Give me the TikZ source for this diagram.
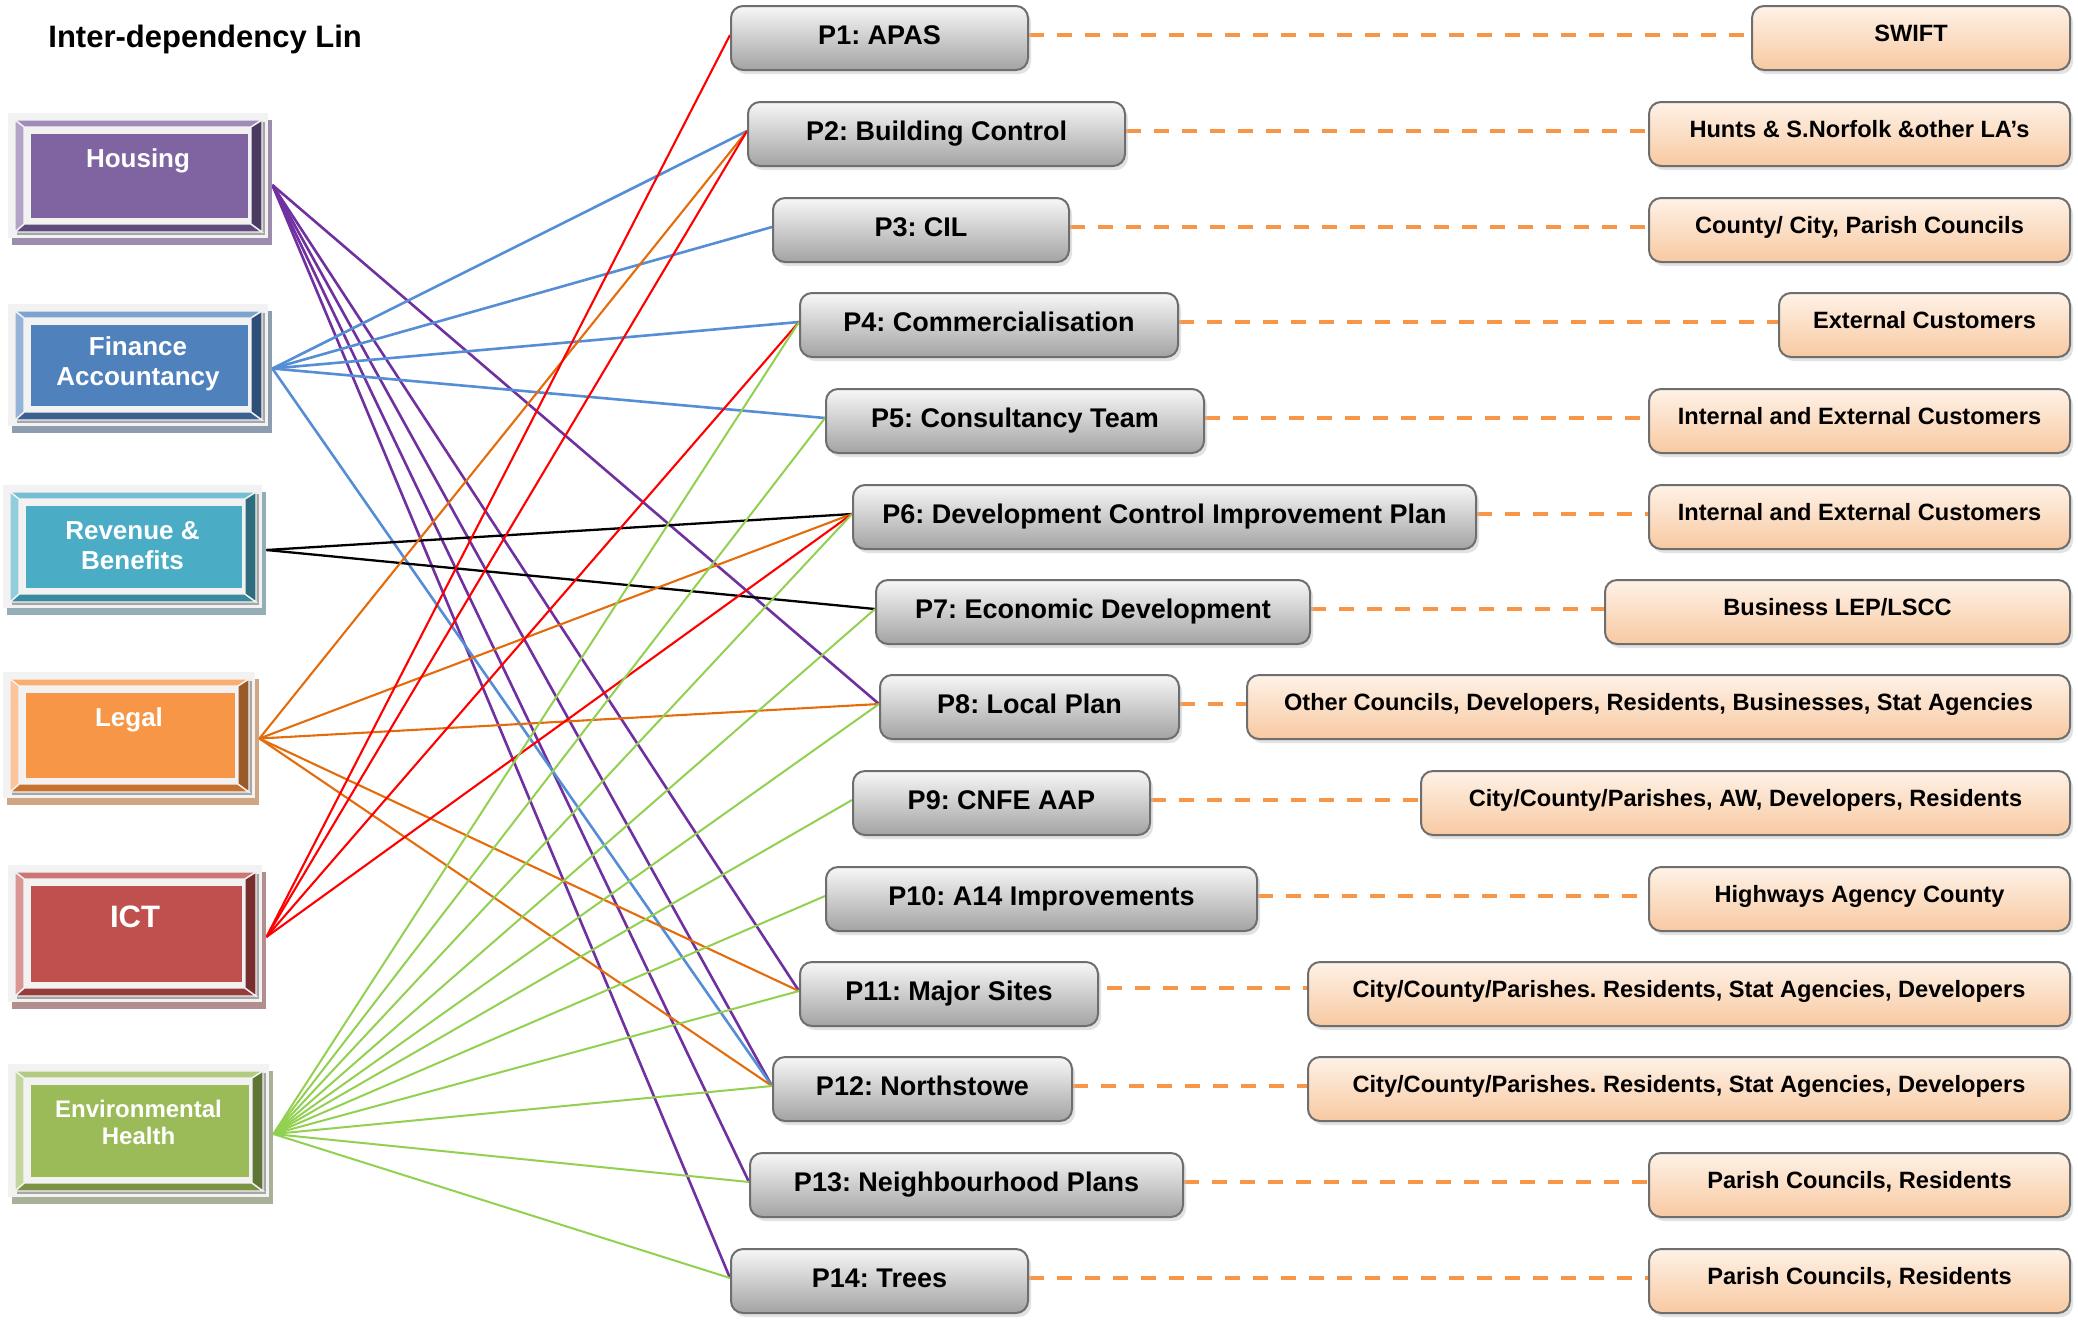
\documentclass[tikz,border=0pt]{standalone}
\usepackage{fontspec}
\setmainfont{Liberation Sans}
\usetikzlibrary{shadows,fit}
\pgfdeclarelayer{bg}
\pgfsetlayers{bg,main}
\definecolor{rim}{HTML}{F2F2F2}
\definecolor{rimdk}{HTML}{A6A6A6}
\definecolor{hsface}{HTML}{8064A2}\definecolor{hstp}{HTML}{9F8BBA}\definecolor{hslf}{HTML}{B3A3C8}\definecolor{hsrt}{HTML}{4B3B63}\definecolor{hsbt}{HTML}{5F4A7D}\definecolor{hssh}{HTML}{9C8DAE}
\definecolor{faface}{HTML}{4F81BD}\definecolor{fatp}{HTML}{7DA3D0}\definecolor{falf}{HTML}{95B3D7}\definecolor{fart}{HTML}{2F4F78}\definecolor{fabt}{HTML}{3C6190}\definecolor{fash}{HTML}{8E9CB0}
\definecolor{rbface}{HTML}{4BACC6}\definecolor{rbtp}{HTML}{74BFD3}\definecolor{rblf}{HTML}{92CDDC}\definecolor{rbrt}{HTML}{2E6D7E}\definecolor{rbbt}{HTML}{3A8AA0}\definecolor{rbsh}{HTML}{93AEB7}
\definecolor{lgface}{HTML}{F79646}\definecolor{lgtp}{HTML}{F9AD6E}\definecolor{lglf}{HTML}{FBC49A}\definecolor{lgrt}{HTML}{9A5A2A}\definecolor{lgbt}{HTML}{C8722F}\definecolor{lgsh}{HTML}{D0A584}
\definecolor{icface}{HTML}{C0504D}\definecolor{ictp}{HTML}{CD7674}\definecolor{iclf}{HTML}{DA9694}\definecolor{icrt}{HTML}{772E2D}\definecolor{icbt}{HTML}{963D3B}\definecolor{icsh}{HTML}{B28E8E}
\definecolor{ehface}{HTML}{9BBB59}\definecolor{ehtp}{HTML}{B2CB80}\definecolor{ehlf}{HTML}{C3D69B}\definecolor{ehrt}{HTML}{5F7535}\definecolor{ehbt}{HTML}{7B9443}\definecolor{ehsh}{HTML}{A8B198}
\definecolor{lnpurple}{HTML}{7030A0}
\definecolor{lnblue}{HTML}{558ED5}
\definecolor{lnorange}{HTML}{E46C0A}
\definecolor{lnred}{HTML}{FF0000}
\definecolor{lngreen}{HTML}{92D050}
\definecolor{dashor}{HTML}{F79646}
\definecolor{pTop}{HTML}{F7F7F7}\definecolor{pMid}{HTML}{DCDCDC}\definecolor{pBot}{HTML}{A3A3A3}
\definecolor{oTop}{HTML}{FEF2E7}\definecolor{oMid}{HTML}{FCE3CD}\definecolor{oBot}{HTML}{F8C9A1}
\definecolor{boxline}{HTML}{6E6E6E}

% #1 colour prefix, #2 x1, #3 y1, #4 x2, #5 y2, #6 name, #7 text y, #8 font, #9 text
\newcommand\bevbox[9]{%
  \fill[#1sh] (#2+4,#3+7) rectangle (#4+4,#5+7);
  \fill[rim] (#2,#3) rectangle (#4,#5);
  \fill[rimdk] (#2+9,#5-6) rectangle (#4-3,#5-3);
  \fill[rimdk] (#4-6,#3+9) rectangle (#4-3,#5-3);
  \filldraw[#1tp, draw=rim, line width=0.7pt] (#2+7,#3+7) -- (#4-6,#3+7) -- (#4-17,#3+14) -- (#2+16,#3+14) -- cycle;
  \filldraw[#1bt, draw=rim, line width=0.7pt] (#2+7,#5-6) -- (#4-6,#5-6) -- (#4-17,#5-14) -- (#2+16,#5-14) -- cycle;
  \filldraw[#1lf, draw=rim, line width=0.7pt] (#2+7,#3+7) -- (#2+16,#3+14) -- (#2+16,#5-14) -- (#2+7,#5-6) -- cycle;
  \filldraw[#1rt, draw=rim, line width=0.7pt] (#4-6,#3+7) -- (#4-17,#3+14) -- (#4-17,#5-14) -- (#4-6,#5-6) -- cycle;
  \fill[rim] (#2+16,#3+14) rectangle (#4-17,#5-14);
  \fill[#1face] (#2+23,#3+21) rectangle (#4-20,#5-20);
  \node[fit={(#2,#3) (#4+4,#5+7)}, inner sep=0pt] (#6) {};
  \node[ltext, font=#8] (#6-t) at ({(#2+#4)/2},#7) {#9};
}

\begin{document}
\frenchspacing
\begin{tikzpicture}[x=0.5pt,y=-0.5pt,
  ltext/.style={text=white, align=center, inner sep=0pt},
  pbox/.style={draw=boxline, line width=1pt, rounded corners=6pt,
    top color=pTop, middle color=pMid, bottom color=pBot,
    drop shadow={shadow xshift=1.5pt, shadow yshift=-2pt, fill=black!22},
    font=\fontsize{13.5}{16}\selectfont\bfseries, text height=10pt, text depth=4pt,
    minimum height=32pt, inner sep=0pt, anchor=west},
  obox/.style={draw=boxline, line width=1pt, rounded corners=6pt,
    top color=oTop, middle color=oMid, bottom color=oBot,
    drop shadow={shadow xshift=1.5pt, shadow yshift=-2pt, fill=black!22},
    font=\fontsize{11.8}{14}\selectfont\bfseries, text height=9pt, text depth=5.6pt,
    minimum height=32pt, inner sep=0pt, anchor=east},
  dashline/.style={draw=dashor, line width=2pt, dash pattern=on 7.5pt off 6.5pt},
  hsline/.style={draw=lnpurple, line width=1.3pt},
  faline/.style={draw=lnblue, line width=1.3pt},
  rbline/.style={draw=black, line width=1.15pt},
  lgline/.style={draw=lnorange, line width=1.05pt},
  icline/.style={draw=lnred, line width=1.05pt},
  ehline/.style={draw=lngreen, line width=1pt}]
\useasboundingbox (0,0) rectangle (2078,1319);

\node[anchor=base west, inner sep=0pt, font=\fontsize{15.5}{18}\selectfont\bfseries] (title) at (48,47) {Inter-dependency Lin};

% left department boxes
\bevbox{hs}{8}{113}{268}{238}{housing}{161}{\fontsize{13}{15}\selectfont\bfseries}{Housing}
\bevbox{fa}{8}{304}{268}{426}{finance}{364}{\fontsize{13}{15}\selectfont\bfseries}{Finance\\Accountancy}
\bevbox{rb}{3}{485}{262}{608}{revenue}{546}{\fontsize{13}{15}\selectfont\bfseries}{Revenue \&\\Benefits}
\bevbox{lg}{3}{672}{255}{798}{legal}{720}{\fontsize{13}{15}\selectfont\bfseries}{Legal}
\bevbox{ic}{8}{865}{262}{1002}{ict}{917}{\fontsize{15.5}{18}\selectfont\bfseries}{ICT}
\bevbox{eh}{8}{1064}{269}{1197}{env}{1122}{\fontsize{12}{13.5}\selectfont\bfseries}{Environmental\\Health}

% projects
\node[pbox, minimum width=148.5pt] (p1) at (730,38) {P1: APAS};
\node[pbox, minimum width=188.5pt] (p2) at (747,134) {P2: Building Control};
\node[pbox, minimum width=148pt] (p3) at (772,230) {P3: CIL};
\node[pbox, minimum width=189pt] (p4) at (799,325) {P4: Commercialisation};
\node[pbox, minimum width=189pt] (p5) at (825,421) {P5: Consultancy Team};
\node[pbox, minimum width=311.5pt] (p6) at (852,517) {P6: Development Control Improvement Plan};
\node[pbox, minimum width=217pt] (p7) at (875,612) {P7: Economic Development};
\node[pbox, minimum width=149.5pt] (p8) at (879,707) {P8: Local Plan};
\node[pbox, minimum width=148.5pt] (p9) at (852,803) {P9: CNFE AAP};
\node[pbox, minimum width=215.5pt] (p10) at (825,899) {P10: A14 Improvements};
\node[pbox, minimum width=149pt] (p11) at (799,994) {P11: Major Sites};
\node[pbox, minimum width=149.5pt] (p12) at (772,1089) {P12: Northstowe};
\node[pbox, minimum width=216.5pt] (p13) at (749,1185) {P13: Neighbourhood Plans};
\node[pbox, minimum width=148.5pt] (p14) at (730,1281) {P14: Trees};

% partners
\node[obox, minimum width=159pt] (o1) at (2071,38) {SWIFT};
\node[obox, minimum width=210.5pt] (o2) at (2071,134) {Hunts \& S.Norfolk \&other LA’s};
\node[obox, minimum width=210.5pt] (o3) at (2071,230) {County/ City, Parish Councils};
\node[obox, minimum width=145.5pt] (o4) at (2071,325) {External Customers};
\node[obox, minimum width=210.5pt] (o5) at (2071,421) {Internal and External Customers};
\node[obox, minimum width=210.5pt] (o6) at (2071,517) {Internal and External Customers};
\node[obox, minimum width=232.5pt] (o7) at (2071,612) {Business LEP/LSCC};
\node[obox, minimum width=411.5pt] (o8) at (2071,707) {Other Councils, Developers, Residents, Businesses, Stat Agencies};
\node[obox, minimum width=324.5pt] (o9) at (2071,803) {City/County/Parishes, AW, Developers, Residents};
\node[obox, minimum width=210.5pt] (o10) at (2071,899) {Highways Agency County};
\node[obox, minimum width=381pt] (o11) at (2071,994) {City/County/Parishes. Residents, Stat Agencies, Developers};
\node[obox, minimum width=381pt] (o12) at (2071,1089) {City/County/Parishes. Residents, Stat Agencies, Developers};
\node[obox, minimum width=210.5pt] (o13) at (2071,1185) {Parish Councils, Residents};
\node[obox, minimum width=210.5pt] (o14) at (2071,1281) {Parish Councils, Residents};

\begin{pgfonlayer}{bg}
  \fill[white] (0,0) rectangle (2078,1319);
  \foreach \i in {1,...,10,12,13,14}
    \draw[dashline] ([yshift=1.5pt]p\i.east) -- ([yshift=1.5pt]o\i.west);
  \draw[dashline, shorten <=4pt] ([yshift=3pt]p11.east) -- ([yshift=3pt]o11.west);
  \foreach \t in {p8,p11,p12,p13,p14}
    \draw[hsline] ([yshift=-3pt]housing.east) -- ([yshift=1.5pt]\t.west);
  \foreach \t in {p2,p3,p4,p5,p12}
    \draw[faline] (finance.east) -- ([yshift=1.5pt]\t.west);
  \foreach \t in {p6,p7}
    \draw[rbline] (revenue.east) -- ([yshift=1.5pt]\t.west);
  \foreach \t in {p2,p6,p8,p11,p12}
    \draw[lgline] (legal.east) -- ([yshift=1.5pt]\t.west);
  \foreach \t in {p1,p2,p4,p6}
    \draw[icline] (ict.east) -- ([yshift=1.5pt]\t.west);
  \foreach \t in {p4,p5,p6,p7,p8,p9,p10,p11,p12,p13,p14}
    \draw[ehline] (env.east) -- ([yshift=1.5pt]\t.west);
\end{pgfonlayer}
\end{tikzpicture}
\end{document}
